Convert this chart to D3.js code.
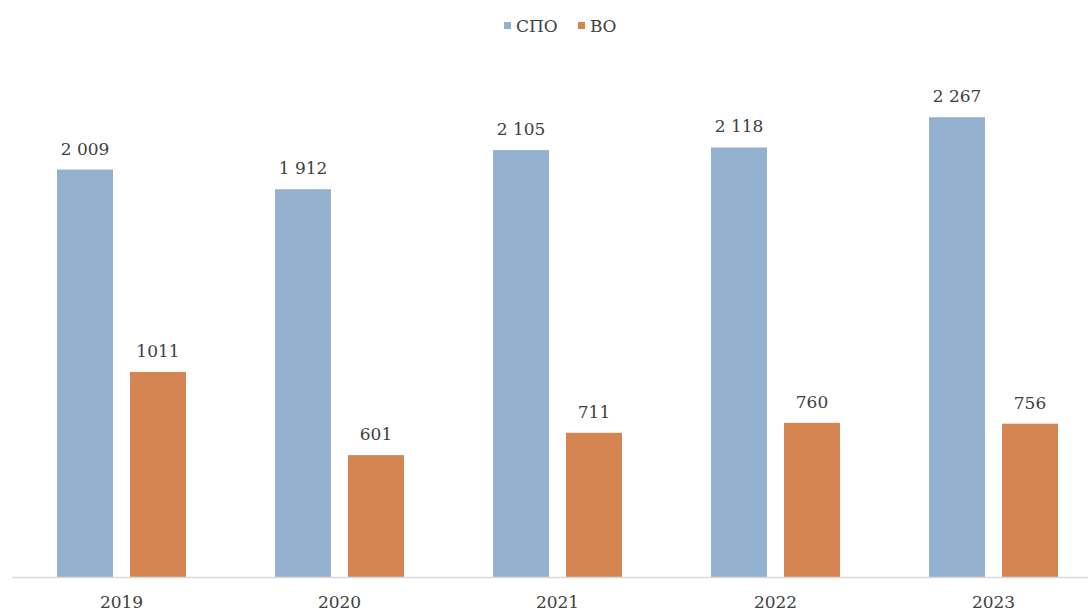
<!DOCTYPE html>
<html><head><meta charset="utf-8">
<script src="https://cdn.jsdelivr.net/npm/d3@7"></script>
<style>body{margin:0;background:#fff}svg{display:block}</style>
</head><body>
<script>
const years = ["2019","2020","2021","2022","2023"];
const spo = [2009,1912,2105,2118,2267];
const vo = [1011,601,711,760,756];
const spoLabels = ["2 009","1 912","2 105","2 118","2 267"];
const voLabels = ["1011","601","711","760","756"];
const seriesNames = ["СПО","ВО"];
const colors = ["#93b1cf","#d58552"];

const W=1088,H=612;
const svg=d3.select("body").append("svg").attr("width",W).attr("height",H);
const font="'DejaVu Serif', 'Liberation Serif', serif";
const fs=17;
const x=d3.scaleBand().domain(years).range([12.5,1102.5]).paddingInner(0).paddingOuter(0);
const y=d3.scaleLinear().domain([0,2500]).range([577,70]);
const bw=56, gap=17;
const data=[spo,vo], labels=[spoLabels,voLabels];
data.forEach((arr,s)=>{
  const g=svg.append("g");
  arr.forEach((v,i)=>{
    const cx=x(years[i])+x.bandwidth()/2;
    const bx = s===0 ? cx-gap/2-bw : cx+gap/2;
    g.append("rect").attr("x",bx).attr("y",y(v)).attr("width",bw).attr("height",y(0)-y(v)).attr("fill",colors[s]);
    g.append("text").attr("x",bx+bw/2).attr("y",y(v)-15).attr("text-anchor","middle")
      .attr("font-family",font).attr("font-size",fs).attr("fill","#404040").text(labels[s][i]);
  });
});
svg.append("line").attr("x1",12).attr("x2",W).attr("y1",577.5).attr("y2",577.5).attr("stroke","#d9d9d9").attr("stroke-width",1.5);
const ax=svg.append("g").attr("transform","translate(0,577)").call(d3.axisBottom(x).tickSize(0).tickPadding(19));
ax.select(".domain").remove();
ax.selectAll("text").attr("font-family",font).attr("font-size",fs).attr("fill","#404040");
// legend
const leg=svg.append("g");
const items=[{x:504},{x:578}];
seriesNames.forEach((n,i)=>{
  leg.append("rect").attr("x",items[i].x).attr("y",22).attr("width",7).attr("height",7).attr("fill",colors[i]);
  leg.append("text").attr("x",items[i].x+12).attr("y",32).attr("font-family",font).attr("font-size",fs).attr("fill","#404040").text(n);
});
</script>
</body></html>
